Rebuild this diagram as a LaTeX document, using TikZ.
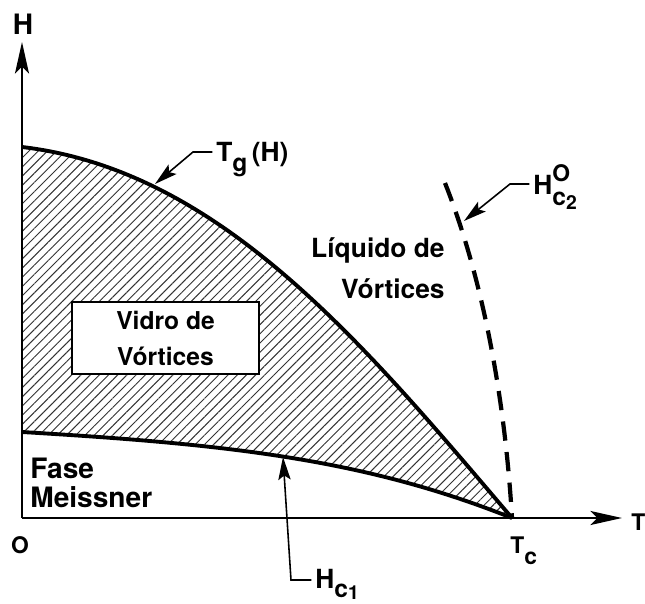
\documentclass[tikz,border=0pt]{standalone}
\usepackage{fontspec}
\setmainfont{TeX Gyre Heros}
\usetikzlibrary{arrows.meta,patterns.meta}

\newcommand\shiftsub[3]{\raisebox{-#1}{\fontsize{#2}{#2}\selectfont #3}}

\begin{document}
\begin{tikzpicture}[
  x=1cm,
  y=1cm,
  axisline/.style={line width=1.1pt, -{Stealth[length=18pt,width=8pt,inset=4pt]}},
  boundary/.style={line width=2.2pt},
  hctwo/.style={line width=2.4pt, dash pattern=on 11pt off 6.5pt},
  hatch/.style={pattern={Lines[angle=45,distance=3.7pt,line width=0.55pt]}, pattern color=black!80},
  leader/.style={line width=0.9pt, shorten <=2pt, -{Stealth[length=13pt,width=7pt,inset=2.5pt]}},
  curvelabel/.style={font=\bfseries\fontsize{15}{15}\selectfont, inner sep=0pt, anchor=base west},
  axislabel/.style={font=\bfseries\fontsize{13}{13}\selectfont, inner sep=0pt},
  region/.style={inner sep=0pt},
  glassbox/.style={
    rectangle,
    draw,
    line width=1pt,
    fill=white,
    align=center,
    minimum width=3.74cm,
    minimum height=1.44cm,
    font=\bfseries\fontsize{14}{20.5}\selectfont
  }
]
\useasboundingbox (-0.44,-1.7) rectangle (12.46,10.36);

% hatched glass region between the two lines
\fill[hatch] (0,7.42) .. controls (4,6.95) and (6.9,3.4) .. (9.8,0)
  .. controls (6.8,1.2) and (4,1.48) .. (0,1.72) -- cycle;

\draw[boundary] (0,7.42) .. controls (4,6.95) and (6.9,3.4) .. (9.8,0);
\draw[boundary] (0,1.72) .. controls (4,1.48) and (6.8,1.2) .. (9.8,0);
\draw[hctwo] (8.46,6.70) .. controls (9.27,4.65) and (9.67,2.2) .. (9.8,0);

% axes
\coordinate (origin) at (0,0);
\coordinate (htop) at (0,9.52);
\coordinate (ttip) at (12,0);
\draw[axisline] (origin) -- (htop);
\draw[axisline] (origin) -- (ttip);

\node[curvelabel, anchor=base, font=\bfseries\fontsize{16}{16}\selectfont] (hlab) at (0.02,9.66) {H};
\node[axislabel, anchor=base west] (tlab) at (12.18,-0.24) {T};
\node[axislabel, anchor=base] (olab) at (-0.04,-0.70) {O};
\node[axislabel, anchor=base west] (tclab) at (9.76,-0.70) {T\shiftsub{6.5pt}{13}{c}};

% regions
\node[glassbox] (glass) at (2.87,3.6) {Vidro de\\Vórtices};
\node[region, align=right, anchor=north east, font=\bfseries\fontsize{15}{23}\selectfont] (liquid) at (8.46,5.61) {Líquido de\\Vórtices};
\node[region, align=left, anchor=north west, font=\bfseries\fontsize{16}{16.5}\selectfont] (meissner) at (0.16,1.2) {Fase\\Meissner};

% leaders
\coordinate (tgtip) at (2.66,6.68);
\coordinate (tgknee) at (3.42,7.32);
\node[curvelabel] (tglab) at (3.88,7.12) {T\shiftsub{5.5pt}{14}{g}\,(H)};
\draw[leader] (tglab.west |- tgknee) -- (tgknee) -- (tgtip);

\coordinate (hctwotip) at (8.84,5.94);
\coordinate (hctwoknee) at (9.76,6.68);
\node[curvelabel] (hctwolab) at (10.22,6.46)
  {H\rlap{\raisebox{7.4pt}{\fontsize{13}{13}\selectfont O}}\shiftsub{5.7pt}{14}{c}\shiftsub{8.5pt}{11}{2}};
\draw[leader] (hctwolab.west |- hctwoknee) -- (hctwoknee) -- (hctwotip);

\coordinate (hconetip) at (5.22,1.22);
\coordinate (hconeknee) at (5.38,-1.24);
\node[curvelabel] (hconelab) at (5.86,-1.40) {H\shiftsub{5.2pt}{14}{c}\shiftsub{6.5pt}{11}{1}};
\draw[leader] (hconelab.west |- hconeknee) -- (hconeknee) -- (hconetip);
\end{tikzpicture}
\end{document}
